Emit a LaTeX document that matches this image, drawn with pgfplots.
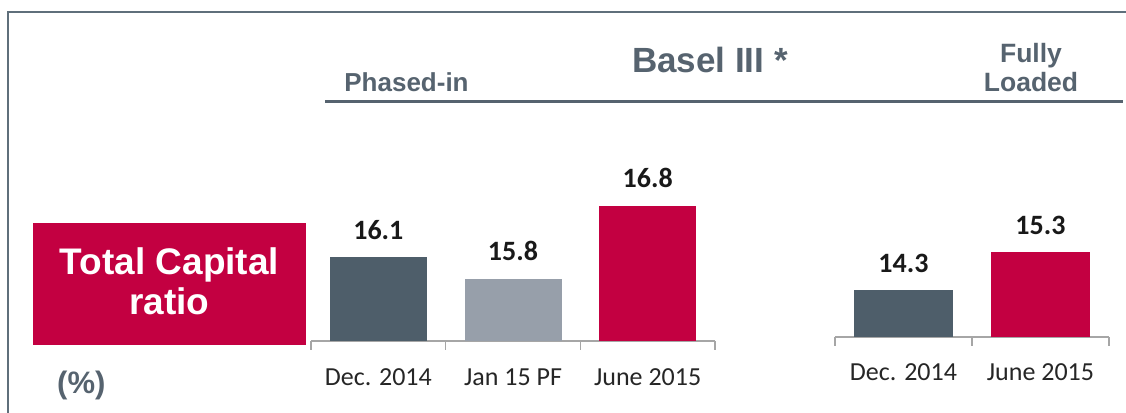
\documentclass[border=0pt]{standalone}
\usepackage{pgfplots}
\pgfplotsset{compat=1.18}
\usepackage{fontspec}
\setmainfont{Carlito}
\newfontfamily\arial{Liberation Sans}
\definecolor{slate}{HTML}{4E5E6A}
\definecolor{lightslate}{HTML}{979FAA}
\definecolor{brandred}{HTML}{C30041}
\definecolor{titlegray}{HTML}{56636F}
\definecolor{framegray}{HTML}{5F6F7B}
\definecolor{axisgray}{HTML}{A6A6A6}
\newcommand{\fs}[1]{\fontsize{#1bp}{#1bp}\selectfont}
\pgfplotsset{
  capstyle/.style={
    scale only axis,
    ybar, bar shift=0pt,
    axis x line*=bottom,
    axis y line=none,
    x axis line style={-, draw=axisgray, line width=1.5bp},
    xtick align=outside,
    major tick length=0pt,
    /pgf/number format/assume math mode=true,
    xticklabel style={font=\fs{26}, text=black!85, anchor=base},
    nodes near coords,
    every node near coord/.append style={font=\bfseries\fs{28}, text=black!90, anchor=base},
    extra x tick style={major tick length=9bp, tick style={draw=axisgray, line width=1.5bp}},
  }
}
\begin{document}
\begin{tikzpicture}
\path[use as bounding box] (0,0) rectangle (1126bp,413bp);
% frame
\draw[framegray, line width=2bp] (8bp,0) -- (8bp,401bp) -- (1126bp,401bp);
% underline
\draw[titlegray, line width=3bp] (325bp,311.5bp) -- (1123bp,311.5bp);
\node[anchor=base, text=titlegray, font=\arial\bfseries\fs{26}] at (406.5bp,321bp) {Phased-in};
\node[anchor=base, text=titlegray, font=\arial\bfseries\fs{35}] at (710bp,340bp) {Basel III *};
\node[anchor=base, text=titlegray, font=\arial\bfseries\fs{26.5}] at (1031bp,350bp) {Fully};
\node[anchor=base, text=titlegray, font=\arial\bfseries\fs{26.5}] at (1031bp,321bp) {Loaded};
% red box
\fill[brandred] (33bp,68bp) rectangle (306bp,190bp);
\node[anchor=base, text=white, font=\arial\bfseries\fs{37}] at (169.5bp,138bp) {Total Capital};
\node[anchor=base, text=white, font=\arial\bfseries\fs{37}] at (169.5bp,98bp) {ratio};
\node[anchor=base west, inner sep=0pt, text=titlegray, font=\arial\bfseries\fs{31}] at (57bp,20bp) {(\%)};

% left chart
\begin{axis}[capstyle,
  at={(311bp,72bp)}, anchor=south west,
  width=404bp, height=146bp,
  xmin=-0.5, xmax=2.5, ymin=14.95, ymax=16.95,
  bar width=96bp,
  xtick={0,1,2},
  xticklabels={Dec. 2014, Jan 15 PF, June 2015},
  xticklabel style={yshift=-44bp},
  extra x ticks={-0.5,0.5,1.5,2.5},
  extra x tick labels={,,,},
  every node near coord/.append style={yshift=18bp},
]
\addplot[fill=slate, draw=slate] coordinates {(0,16.1)};
\addplot[fill=lightslate, draw=lightslate] coordinates {(1,15.8)};
\addplot[fill=brandred, draw=brandred] coordinates {(2,16.8)};
\end{axis}

% right chart
\begin{axis}[capstyle,
  at={(835bp,76bp)}, anchor=south west,
  width=274bp, height=146bp,
  xmin=-0.5, xmax=1.5, ymin=13.06, ymax=16.90,
  bar width=98bp,
  xtick={0,1},
  xticklabels={Dec. 2014, June 2015},
  xticklabel style={yshift=-43bp},
  extra x ticks={-0.5,0.5,1.5},
  extra x tick labels={,,},
  every node near coord/.append style={yshift=17bp},
]
\addplot[fill=slate, draw=slate] coordinates {(0,14.3)};
\addplot[fill=brandred, draw=brandred] coordinates {(1,15.3)};
\end{axis}
\end{tikzpicture}
\end{document}
